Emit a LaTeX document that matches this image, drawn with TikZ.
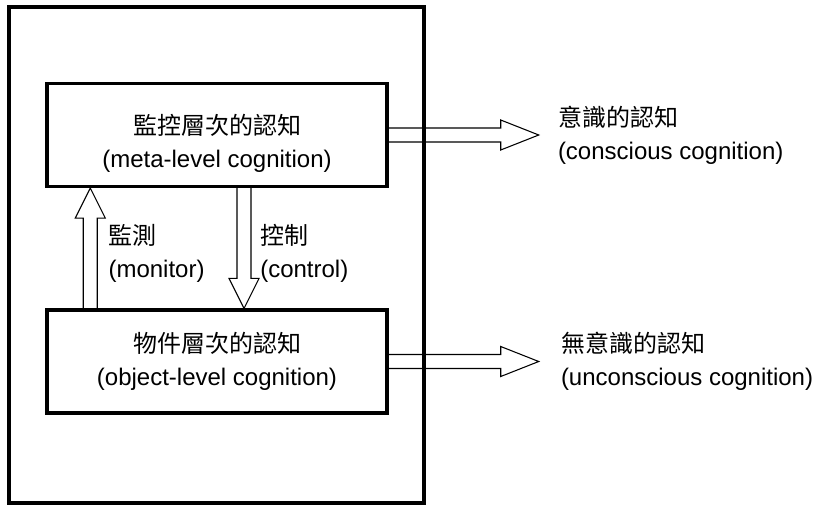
\documentclass[tikz,border=0pt]{standalone}
\usepackage{fontspec}
\setmainfont{Liberation Sans}
\newfontfamily\cjk{Noto Sans CJK TC}
\usetikzlibrary{calc}
\usetikzlibrary{positioning}

\tikzset{
  level/.style={draw, line width=2.6pt, minimum width=255pt, minimum height=77pt, align=center},
  frame/.style={draw, line width=2.6pt},
  note/.style={align=left, inner sep=0pt},
  hollow/.style={draw, line width=0.8pt, line join=miter},
}

% hollow block arrow: [head length]{from}{to}
\newcommand{\hollowarrow}[3][22.5pt]{%
  \draw[hollow]
    ($(#2)!5.25pt!90:(#3)$) --
    ($(#3)!#1!(#2)!5.25pt!90:(#3)$) --
    ($(#3)!#1!(#2)!11.25pt!90:(#3)$) --
    (#3) --
    ($(#3)!#1!(#2)!11.25pt!-90:(#3)$) --
    ($(#3)!#1!(#2)!5.25pt!-90:(#3)$) --
    ($(#2)!5.25pt!-90:(#3)$);
}

\begin{document}
\begin{tikzpicture}[x=0.75pt, y=-0.75pt, font=\fontsize{18}{24.5}\selectfont]
  \useasboundingbox (0,0) rectangle (814,507);

    \node[level, label={[align=center, yshift=-6pt, font=\fontsize{18}{24.75}\selectfont]center:{{\cjk 監控層次的認知}\\(meta-level cognition)}}] (meta) at (217,135) {};
    \node[level] (object) at (217,361.5) {{\cjk 物件層次的認知}\\(object-level cognition)};

    \coordinate (mon-s) at ([xshift=33.75pt]object.north west);
    \coordinate (mon-e) at (mon-s |- meta.south);
    \coordinate (mon-m) at ($(mon-s)!0.5!(mon-e)$);
    \coordinate (ctl-s) at ([xshift=20.25pt]meta.south);
    \coordinate (ctl-e) at (ctl-s |- object.north);
    \coordinate (ctl-m) at ($(ctl-s)!0.5!(ctl-e)$);
    \coordinate (con-e) at ([xshift=112.5pt]meta.east);
    \coordinate (unc-e) at ([xshift=112.5pt]object.east);

    \hollowarrow{mon-s}{mon-e}
    \hollowarrow{ctl-s}{ctl-e}
    \hollowarrow[28.5pt]{meta.east}{con-e}
    \hollowarrow[28.5pt]{object.east}{unc-e}

    \node[note, right=13.5pt of mon-m, yshift=-4pt] (monitor) {{\cjk 監測}\\(monitor)};
    \node[note, right=12pt of ctl-m, yshift=-4pt] (control) {{\cjk 控制}\\(control)};
    \node[note, right=14.25pt of con-e] (conscious) {{\cjk 意識的認知}\\(conscious cognition)};
    \node[note, right=16.5pt of unc-e] (unconscious) {{\cjk 無意識的認知}\\(unconscious cognition)};

    \draw[frame] (9,7) rectangle (424,503);
\end{tikzpicture}
\end{document}
